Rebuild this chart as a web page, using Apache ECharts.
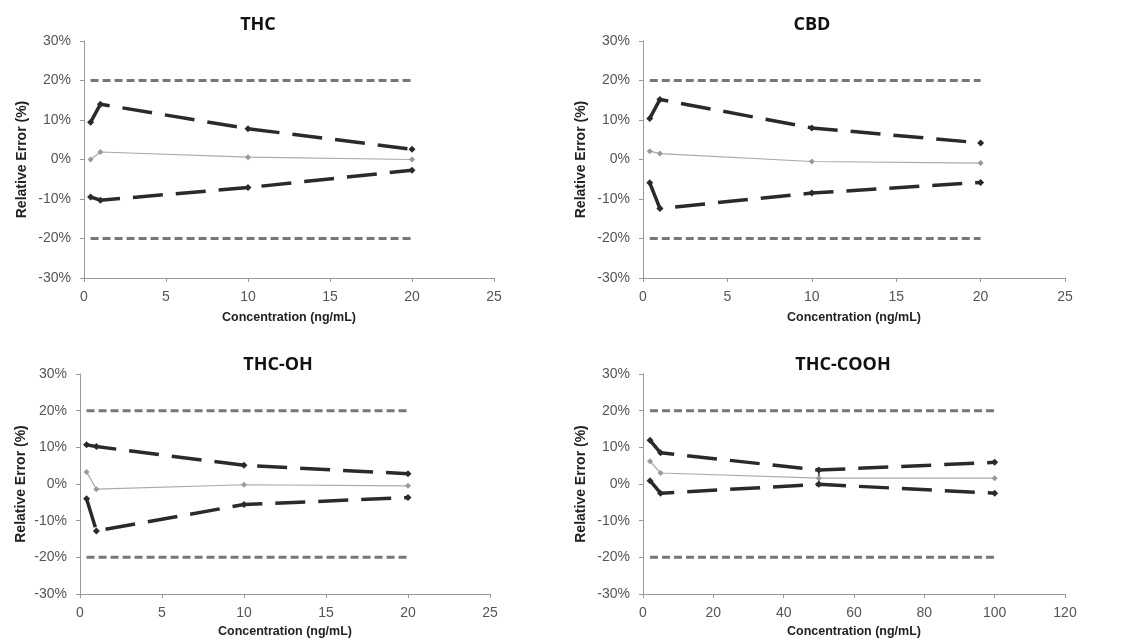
<!DOCTYPE html>
<html><head><meta charset="utf-8">
<script src="https://cdn.jsdelivr.net/npm/echarts@6/dist/echarts.min.js"></script>
<style>html,body{margin:0;padding:0;background:#fff}#c{width:1121px;height:644px}</style>
</head><body><div id="c"></div>
<script>
// Panel titles
const titles = ['THC', 'CBD', 'THC-OH', 'THC-COOH'];
// Concentrations (ng/mL)
const xLow = [0.4, 1, 10, 20];
const xCooh = [2, 5, 50, 100];
// Relative error (%) : upper bound, mean, lower bound
const thcUpper = [9.4, 14.0, 7.8, 2.6];
const thcMean = [0.0, 1.9, 0.6, 0.0];
const thcLower = [-9.5, -10.3, -7.1, -2.7];
const cbdUpper = [10.4, 15.2, 8.0, 4.2];
const cbdMean = [2.1, 1.5, -0.5, -0.9];
const cbdLower = [-5.9, -12.4, -8.5, -5.8];
const ohUpper = [10.7, 10.2, 5.1, 2.8];
const ohMean = [3.3, -1.4, -0.2, -0.5];
const ohLower = [-4.0, -12.8, -5.6, -3.7];
const coohUpper = [11.9, 8.5, 3.8, 5.9];
const coohMean = [6.2, 3.0, 1.6, 1.6];
const coohLower = [0.9, -2.5, -0.1, -2.5];
// Acceptance limits (%)
const limitHigh = 20;
const limitLow = -20;
// Vertical bar on THC-COOH at 50 ng/mL
const coohBarX = 50;
const coohBar = [3.8, -0.1];
// Axis ticks
const xMaxLow = 25, xStepLow = 5;
const xMaxCooh = 120, xStepCooh = 20;
const yMin = -30, yMax = 30, yStep = 10;

const panels = [
  {x: xLow, up: thcUpper, mid: thcMean, lo: thcLower, xmax: xMaxLow, step: xStepLow},
  {x: xLow, up: cbdUpper, mid: cbdMean, lo: cbdLower, xmax: xMaxLow, step: xStepLow},
  {x: xLow, up: ohUpper, mid: ohMean, lo: ohLower, xmax: xMaxLow, step: xStepLow},
  {x: xCooh, up: coohUpper, mid: coohMean, lo: coohLower, xmax: xMaxCooh, step: xStepCooh}
];
const grids = [
  {left: 84, top: 41, width: 410, height: 237},
  {left: 643, top: 41, width: 422, height: 237},
  {left: 80, top: 374, width: 410, height: 220},
  {left: 643, top: 374, width: 422, height: 220}
];
const titlePos = [[258, 16], [812, 16], [278, 356], [843, 356]];
const yNameGap = [55, 55, 52, 55];
const xNameGap = [33, 33, 31, 31];

const zip = (xs, ys) => xs.map((v, i) => [v, ys[i]]);
const fontTick = 'Liberation Sans, Arial, sans-serif';

const option = {
  animation: false,
  backgroundColor: '#fff',
  title: titles.map((t, i) => ({
    text: t, left: titlePos[i][0], top: titlePos[i][1], textAlign: 'center', padding: 0,
    textStyle: {fontFamily: 'Open Sans, sans-serif', fontWeight: 'bold', fontSize: 18, color: '#111'}
  })),
  grid: grids,
  xAxis: panels.map((p, i) => ({
    type: 'value', gridIndex: i, min: 0, max: p.xmax, interval: p.step,
    name: 'Concentration (ng/mL)', nameLocation: 'middle', nameGap: xNameGap[i],
    nameTextStyle: {fontFamily: fontTick, fontWeight: 'bold', fontSize: 12.5, color: '#222'},
    axisLine: {show: true, onZero: false, lineStyle: {color: '#999', width: 1}},
    axisTick: {show: true, length: 4, lineStyle: {color: '#999'}},
    axisLabel: {fontFamily: fontTick, fontSize: 14, color: '#555', margin: 12},
    splitLine: {show: false}
  })),
  yAxis: panels.map((p, i) => ({
    type: 'value', gridIndex: i, min: yMin, max: yMax, interval: yStep,
    name: 'Relative Error (%)', nameLocation: 'middle', nameGap: yNameGap[i], nameRotate: 90,
    nameTextStyle: {fontFamily: fontTick, fontWeight: 'bold', fontSize: 14, color: '#222'},
    axisLine: {show: true, lineStyle: {color: '#999', width: 1}},
    axisTick: {show: true, length: 4, lineStyle: {color: '#999'}},
    axisLabel: {fontFamily: fontTick, fontSize: 14, color: '#555', margin: 13, formatter: '{value}%'},
    splitLine: {show: false}
  })),
  series: []
};

panels.forEach((p, i) => {
  const xr = [p.x[0], p.x[p.x.length - 1]];
  [limitHigh, limitLow].forEach(l => option.series.push({
    type: 'line', xAxisIndex: i, yAxisIndex: i, data: [[xr[0], l], [xr[1], l]],
    symbol: 'none', lineStyle: {color: '#777', width: 3, type: [8, 4]}, silent: true
  }));
  [p.up, p.lo].forEach(arr => option.series.push({
    type: 'line', xAxisIndex: i, yAxisIndex: i, data: zip(p.x, arr),
    symbol: 'diamond', symbolSize: 7, itemStyle: {color: '#2a2a2a'},
    lineStyle: {color: '#2a2a2a', width: 3.5, type: [30, 13]}
  }));
  option.series.push({
    type: 'line', xAxisIndex: i, yAxisIndex: i, data: zip(p.x, p.mid),
    symbol: 'diamond', symbolSize: 6, itemStyle: {color: '#999'},
    lineStyle: {color: '#aaa', width: 1.2}
  });
});
option.series.push({
  type: 'line', xAxisIndex: 3, yAxisIndex: 3,
  data: coohBar.map(v => [coohBarX, v]),
  symbol: 'rect', symbolSize: [7, 1.5], itemStyle: {color: '#333'},
  lineStyle: {color: '#333', width: 1.5}
});

const chart = echarts.init(document.getElementById('c'), null, {renderer: 'canvas'});
chart.setOption(option);
</script></body></html>
